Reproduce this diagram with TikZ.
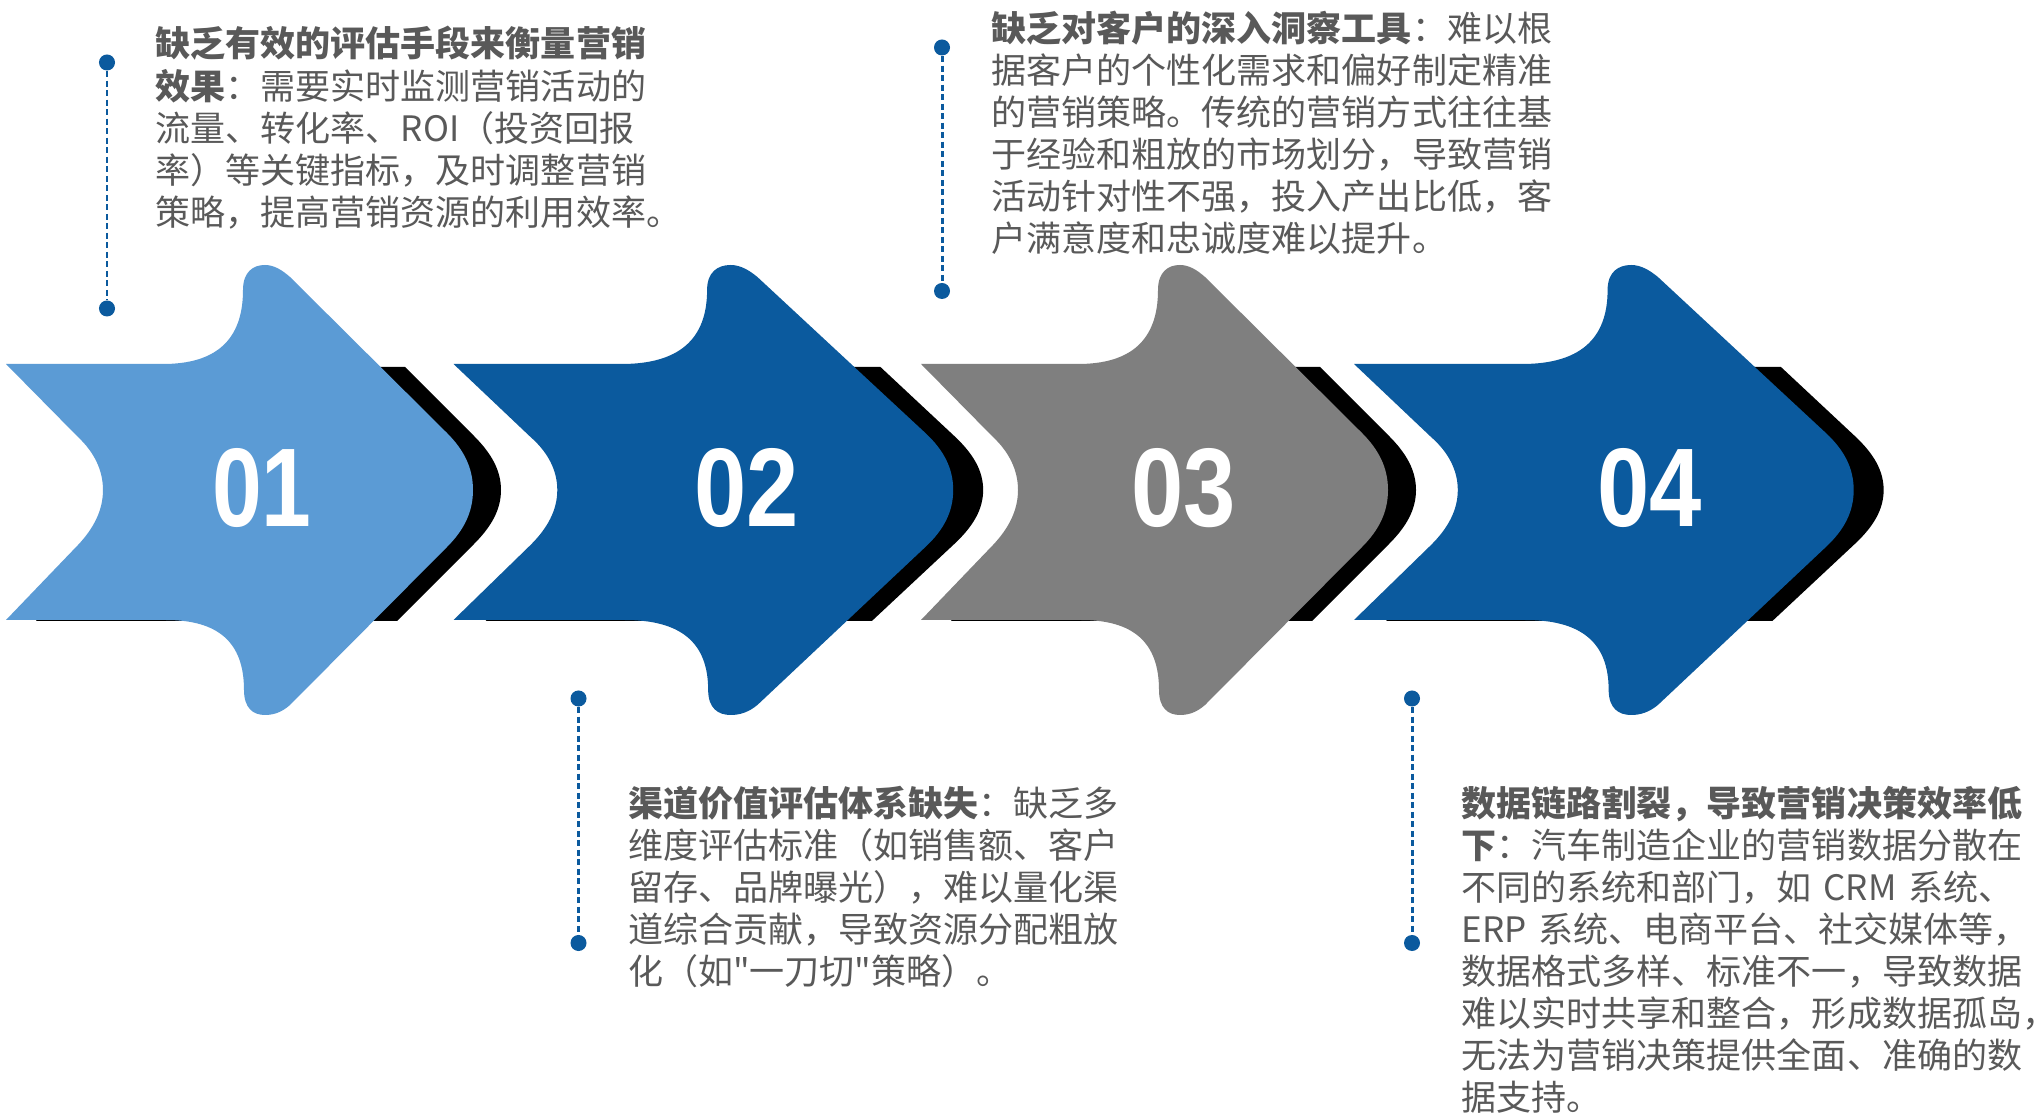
\documentclass[tikz,border=0pt]{standalone}
\usepackage{fontspec}
\newfontfamily\cjkfont{Noto Sans CJK SC}
\newfontfamily\numfont{Liberation Sans}
\definecolor{lblue}{HTML}{5B9BD5}
\definecolor{dblue}{HTML}{0B5A9E}
\definecolor{mgray}{HTML}{7F7F7F}
\definecolor{txtgray}{HTML}{595959}
\newcommand{\ArrowBody}{(0,364) -- (157,364) .. controls (210,364) and (237,340) .. (237,290) .. controls (237,272) and (247,265) .. (259,265) .. controls (268,265) and (276,270) .. (284,277) -- (441,433) .. controls (458,450) and (467,468) .. (467,490) .. controls (467,512) and (458,530) .. (441,547) -- (284,705) .. controls (276,712) and (268,715) .. (259,715) .. controls (247,715) and (238,708) .. (238,690) .. controls (238,642) and (212,620) .. (160,620) -- (0,620) -- (72,545) .. controls (88,528) and (97,510) .. (97,490) .. controls (97,470) and (88,452) .. (72,437) -- cycle}
\newcommand{\ShadowBody}{(33,367) -- (399,367) -- (468,436) .. controls (485,453) and (495,470) .. (495,490) .. controls (495,510) and (485,527) .. (468,544) -- (391,621) -- (30,621) -- (102,545) .. controls (118,528) and (127,510) .. (127,490) .. controls (127,470) and (118,452) .. (102,437) -- cycle}
\begin{document}
\begin{tikzpicture}[x=0.01cm, y=-0.01cm,
  txt/.style={anchor=base west, inner sep=0pt, text width=5.75cm, align=left, text=txtgray,
    font=\cjkfont\fontsize{9.96pt}{11.95pt}\selectfont},
  num/.style={anchor=base, inner sep=0pt, text=white,
    font=\numfont\bfseries\fontsize{31.8pt}{32pt}\selectfont},
  dotnode/.style={circle, fill=dblue, minimum size=0.16cm, inner sep=0pt},
  leader/.style={dblue, line width=0.85pt, dash pattern=on 0.06cm off 0.035cm}]
\useasboundingbox[fill=white] (0,0) rectangle (2042,1113);

% arrows
\begin{scope}[shift={(6,0)}]
  \fill[black] \ShadowBody;
  \fill[lblue] \ArrowBody;
\end{scope}
\begin{scope}[shift={(453.5,0)}, xscale=1.07]
  \fill[black] \ShadowBody;
  \fill[dblue] \ArrowBody;
\end{scope}
\begin{scope}[shift={(921,0)}]
  \fill[black] \ShadowBody;
  \fill[mgray] \ArrowBody;
\end{scope}
\begin{scope}[shift={(1354,0)}, xscale=1.07]
  \fill[black] \ShadowBody;
  \fill[dblue] \ArrowBody;
\end{scope}

% numbers
\node[num] (n1) at (262,527) {\scalebox{0.8}[1]{01}};
\node[num] (n2) at (746.5,527) {\scalebox{0.84}[1]{02}};
\node[num] (n3) at (1184,527) {\scalebox{0.84}[1]{03}};
\node[num] (n4) at (1649.5,527) {\scalebox{0.84}[1]{04}};

% leaders
\node[dotnode] (d1a) at (107,62.5) {};
\node[dotnode] (d1b) at (107,308.5) {};
\draw[leader] (d1a) -- (d1b);
\node[dotnode] (d2a) at (942,47.5) {};
\node[dotnode] (d2b) at (942,291) {};
\draw[leader] (d2a) -- (d2b);
\node[dotnode] (d3a) at (578.5,698.5) {};
\node[dotnode] (d3b) at (578.5,943) {};
\draw[leader] (d3a) -- (d3b);
\node[dotnode] (d4a) at (1412,698.5) {};
\node[dotnode] (d4b) at (1412,943) {};
\draw[leader] (d4a) -- (d4b);

% texts
\node[txt] (t1) at (155,57) {{\bfseries 缺乏有效的评估手段来衡量营销}\\
{\bfseries 效果}：需要实时监测营销活动的\\
流量、转化率、ROI（投资回报\\
率）等关键指标，及时调整营销\\
策略，提高营销资源的利用效率。};

\node[txt] (t2) at (991,41.6) {{\bfseries 缺乏对客户的深入洞察工具}：难以根\\
据客户的个性化需求和偏好制定精准\\
的营销策略。传统的营销方式往往基\\
于经验和粗放的市场划分，导致营销\\
活动针对性不强，投入产出比低，客\\
户满意度和忠诚度难以提升。};

\node[txt] (t3) at (627.5,816.5) {{\bfseries 渠道价值评估体系缺失}：缺乏多\\
维度评估标准（如销售额、客户\\
留存、品牌曝光），难以量化渠\\
道综合贡献，导致资源分配粗放\\
化（如"一刀切"策略）。};

\node[txt] (t4) at (1461,816.5) {{\bfseries 数据链路割裂，导致营销决策效率低}\\
{\bfseries 下}：汽车制造企业的营销数据分散在\\
不同的系统和部门，如 CRM 系统、\\
ERP 系统、电商平台、社交媒体等，\\
数据格式多样、标准不一，导致数据\\
难以实时共享和整合，形成数据孤岛\makebox[0.45em][l]{，}\\
无法为营销决策提供全面、准确的数\\
据支持。};
\end{tikzpicture}
\end{document}
